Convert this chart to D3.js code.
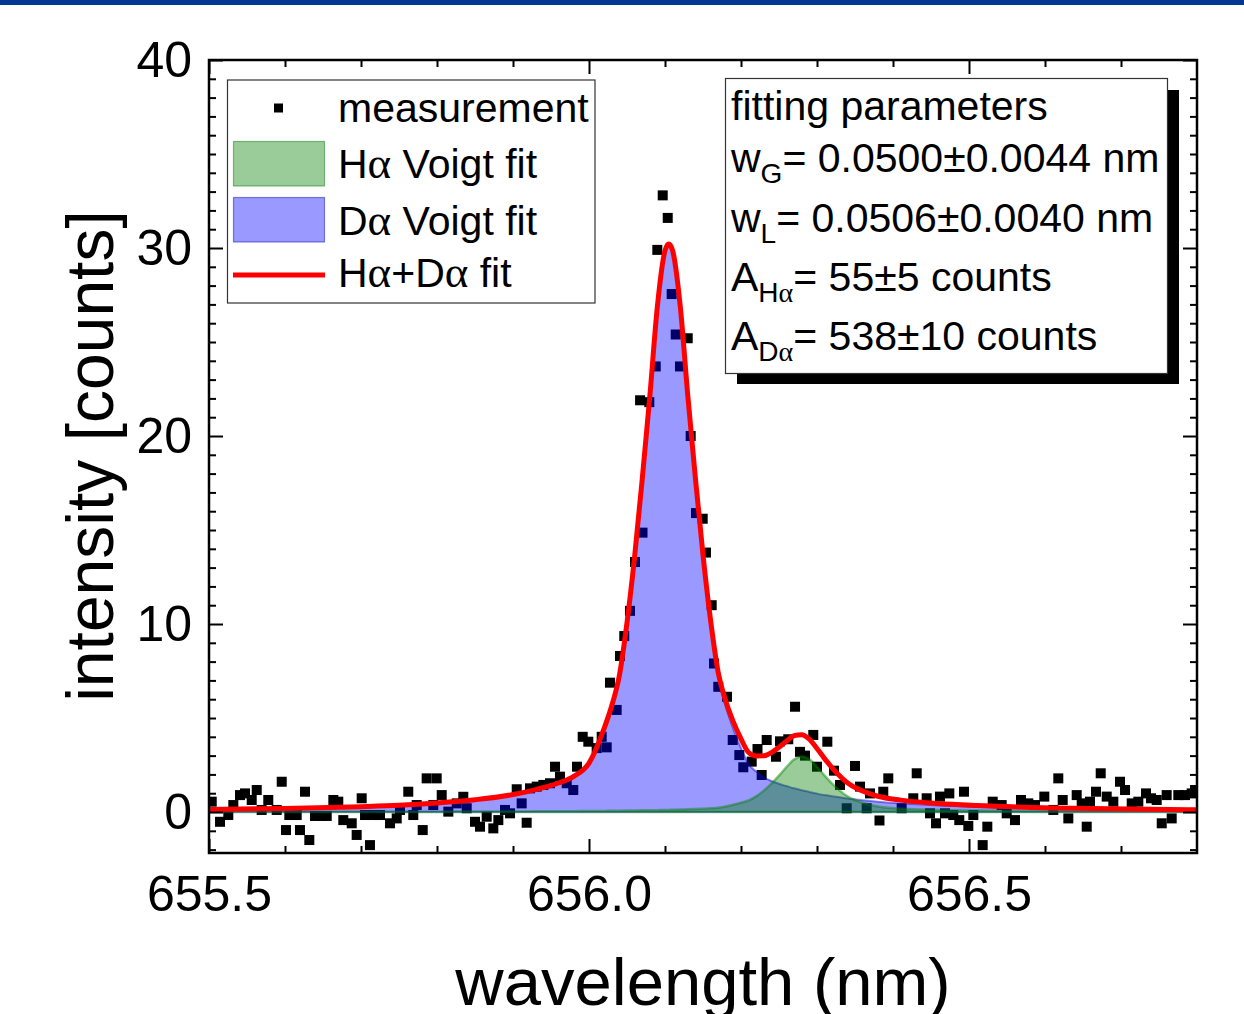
<!DOCTYPE html>
<html>
<head>
<meta charset="utf-8">
<script src="https://cdn.jsdelivr.net/npm/d3@7"></script>
<style>
  html, body { margin: 0; padding: 0; background: #ffffff; }
  svg { display: block; }
  text { font-family: "Liberation Sans", Arial, sans-serif; fill: #000; }
  .greek { font-family: "Liberation Serif", "Times New Roman", serif; }
</style>
</head>
<body>
<svg id="chart" width="1244" height="1014"></svg>
<script>
// ---- measured spectrum (wavelength in nm, intensity in counts) ----
const measWavelength = [
  655.5036, 655.5145, 655.5254, 655.5320, 655.5408, 655.5474, 655.5562, 655.5628, 655.5693, 655.5780,
  655.5891, 655.5957, 655.6013, 655.6057, 655.6154, 655.6197, 655.6263, 655.6320, 655.6395, 655.6461,
  655.6549, 655.6636, 655.6701, 655.6767, 655.6878, 655.6943, 655.7009, 655.7053, 655.7118, 655.7162,
  655.7250, 655.7382, 655.7470, 655.7513, 655.7622, 655.7688, 655.7733, 655.7812, 655.7864, 655.7951,
  655.7996, 655.8062, 655.8149, 655.8259, 655.8346, 655.8391, 655.8500, 655.8566, 655.8654, 655.8741,
  655.8807, 655.8895, 655.8961, 655.9049, 655.9114, 655.9180, 655.9224, 655.9312, 655.9399, 655.9487,
  655.9553, 655.9618, 655.9707, 655.9793, 655.9842, 655.9917, 655.9991, 656.0101, 656.0167, 656.0233,
  656.0276, 656.0364, 656.0408, 656.0464, 656.0539, 656.0605, 656.0672, 656.0704, 656.0793, 656.0878,
  656.0899, 656.0970, 656.1036, 656.1088, 656.1141, 656.1197, 656.1299, 656.1338, 656.1408, 656.1496,
  656.1539, 656.1614, 656.1645, 656.1701, 656.1816, 656.1891, 656.1978, 656.2030, 656.2141, 656.2217,
  656.2272, 656.2338, 656.2460, 656.2513, 656.2622, 656.2711, 656.2776, 656.2842, 656.2951, 656.3000,
  656.3136, 656.3224, 656.3303, 656.3391, 656.3500, 656.3566, 656.3654, 656.3697, 656.3822, 656.3872,
  656.3938, 656.4114, 656.4267, 656.4312, 656.4443, 656.4487, 656.4566, 656.4618, 656.4684, 656.4741,
  656.4793, 656.4872, 656.4934, 656.4991, 656.5057, 656.5180, 656.5241, 656.5312, 656.5430, 656.5496,
  656.5605, 656.5684, 656.5780, 656.5868, 656.5991, 656.6109, 656.6175, 656.6233, 656.6307, 656.6417,
  656.6483, 656.6549, 656.6592, 656.6671, 656.6733, 656.6812, 656.6899, 656.6987, 656.7053, 656.7141,
  656.7228, 656.7329, 656.7395, 656.7470, 656.7536, 656.7601, 656.7667, 656.7754, 656.7842, 656.7930,
  656.7974
];
const measCounts = [
  0.55, -0.52, -0.16, 0.37, 0.90, 0.99, 0.64, 1.17, 0.11, 0.64,
  0.11, 1.61, -0.96, -0.16, -0.16, -0.96, 1.08, -1.49, -0.21, -0.21,
  -0.21, 0.64, 0.55, -0.43, -0.60, -1.22, 0.73, -0.16, -1.76, -0.16,
  -0.16, -0.60, -0.34, 0.11, 1.08, -0.16, 0.37, -0.96, 1.79, 0.37,
  1.79, 0.90, 0.02, 0.46, 0.81, 0.20, -0.52, -0.78, -0.25, -0.87,
  -0.43, 0.11, -0.07, 1.21, 0.46, -0.57, 1.26, 1.35, 1.44, 1.53,
  2.41, 1.88, 1.53, 1.17, 2.41, 4.00, 3.74, 3.40, 4.00, 3.44,
  6.88, 5.43, 8.30, 9.36, 10.70, 13.30, 21.90, 14.86, 21.80, 23.70,
  29.90, 32.80, 31.60, 27.55, 25.40, 23.70, 25.20, 20.00, 15.90, 15.60,
  13.80, 11.00, 7.90, 6.66, 6.13, 3.83, 3.03, 2.38, 2.68, 3.35,
  1.97, 3.83, 2.94, 3.76, 3.87, 5.60, 3.20, 3.00, 4.10, 2.41,
  3.74, 2.20, 1.44, 0.20, 2.45, 1.35, 0.20, 0.99, -0.45, 1.08,
  1.79, 0.20, 0.73, 2.06, 0.73, -0.07, -0.60, 0.82, -0.07, 0.99,
  -0.16, -0.43, 1.08, -0.74, -0.16, -1.76, -0.78, 0.55, 0.37, -0.07,
  -0.43, 0.64, 0.46, 0.37, 0.82, 0.11, 1.79, 0.64, -0.34, 0.90,
  0.46, -0.78, 0.55, 1.08, 2.06, 0.82, 0.55, 1.61, 1.17, 0.46,
  0.55, 0.99, 0.73, 0.64, -0.60, 0.90, -0.34, 0.90, 0.90, 0.99,
  1.17
];

// ---- Voigt fit components on a common wavelength grid ----
const fitWavelength = [
  655.50, 655.60, 655.70, 655.75, 655.80, 655.85, 655.90, 655.93, 655.96, 655.98,
  656.00, 656.02, 656.03, 656.04, 656.05, 656.06, 656.07, 656.08, 656.09, 656.10,
  656.105, 656.11, 656.12, 656.13, 656.14, 656.15, 656.16, 656.17, 656.18, 656.19,
  656.20, 656.21, 656.22, 656.23, 656.24, 656.25, 656.26, 656.27, 656.28, 656.29,
  656.30, 656.31, 656.32, 656.33, 656.34, 656.36, 656.38, 656.41, 656.46, 656.51,
  656.61, 656.71, 656.80
];
const dAlphaFit = [
  0.13, 0.18, 0.27, 0.34, 0.46, 0.63, 0.90, 1.16, 1.50, 1.85,
  2.55, 4.40, 5.60, 7.20, 10.0, 13.5, 17.6, 22.0, 26.8, 29.75,
  30.1, 29.75, 26.8, 22.0, 17.6, 13.5, 10.0, 7.20, 5.60, 4.40,
  3.40, 2.55, 2.15, 1.85, 1.65, 1.50, 1.38, 1.26, 1.16, 1.07,
  0.98, 0.90, 0.84, 0.78, 0.72, 0.63, 0.55, 0.46, 0.34, 0.27,
  0.18, 0.13, 0.10
];
const hAlphaFit = [
  0.008, 0.010, 0.014, 0.016, 0.020, 0.024, 0.029, 0.035, 0.042, 0.046,
  0.053, 0.060, 0.064, 0.069, 0.075, 0.081, 0.088, 0.093, 0.100, 0.110,
  0.113, 0.119, 0.129, 0.141, 0.154, 0.172, 0.194, 0.225, 0.289, 0.382,
  0.490, 0.617, 0.833, 1.137, 1.509, 1.940, 2.400, 2.800, 2.950, 2.800,
  2.400, 1.940, 1.509, 1.137, 0.833, 0.490, 0.289, 0.172, 0.110, 0.075,
  0.040, 0.024, 0.017
];

// ---- axis ticks and labels ----
const xMajorTicks = [655.5, 656.0, 656.5];
const xMinorTicks = [655.6, 655.7, 655.8, 655.9, 656.1, 656.2, 656.3, 656.4, 656.6, 656.7];
const yMajorTicks = [0, 10, 20, 30, 40];
const yMinorTicks = [-2, -1, 1, 2, 3, 4, 5, 6, 7, 8, 9, 11, 12, 13, 14, 15, 16, 17, 18, 19,
                     21, 22, 23, 24, 25, 26, 27, 28, 29, 31, 32, 33, 34, 35, 36, 37, 38, 39];

// ---- legend and fit-parameter texts ----
const legendLabels = [
  [{t: "measurement"}],
  [{t: "H"}, {t: "α", g: true}, {t: " Voigt fit"}],
  [{t: "D"}, {t: "α", g: true}, {t: " Voigt fit"}],
  [{t: "H"}, {t: "α", g: true}, {t: "+D"}, {t: "α", g: true}, {t: " fit"}]
];
const paramLines = [
  {main: "fitting parameters"},
  {main: "w", sub: [{t: "G"}], rest: "= 0.0500±0.0044 nm"},
  {main: "w", sub: [{t: "L"}], rest: "= 0.0506±0.0040 nm"},
  {main: "A", sub: [{t: "H"}, {t: "α", g: true}], rest: "= 55±5 counts"},
  {main: "A", sub: [{t: "D"}, {t: "α", g: true}], rest: "= 538±10 counts"}
];

const svg = d3.select("#chart");

// header bar
svg.append("rect").attr("x", 0).attr("y", 0).attr("width", 1244).attr("height", 5).attr("fill", "#023892");

const x = d3.scaleLinear().domain([655.5, 656.8]).range([209, 1197]);
const y = d3.scaleLinear().domain([-2.18, 40]).range([853, 60]);

const plot = svg.append("g");
plot.append("clipPath").attr("id", "plotClip")
  .append("rect").attr("x", 209).attr("y", 60).attr("width", 988).attr("height", 793);

const inner = plot.append("g").attr("clip-path", "url(#plotClip)");

// measurement points
const mSize = 10;
inner.append("g").selectAll("rect")
  .data(measWavelength.map((w, i) => [w, measCounts[i]]))
  .join("rect")
  .attr("x", d => x(d[0]) - mSize / 2)
  .attr("y", d => y(d[1]) - mSize / 2)
  .attr("width", mSize).attr("height", mSize)
  .attr("fill", "#000");

const fitRows = fitWavelength.map((w, i) => ({w, d: dAlphaFit[i], h: hAlphaFit[i], s: dAlphaFit[i] + hAlphaFit[i]}));

// D-alpha Voigt component
inner.append("path")
  .datum(fitRows)
  .attr("d", d3.area().curve(d3.curveMonotoneX).x(r => x(r.w)).y0(y(0)).y1(r => y(r.d)))
  .attr("fill", "rgba(0,0,255,0.4)")
  .attr("stroke", "rgba(0,0,200,0.45)")
  .attr("stroke-width", 2);

// H-alpha Voigt component
inner.append("path")
  .datum(fitRows)
  .attr("d", d3.area().curve(d3.curveMonotoneX).x(r => x(r.w)).y0(y(0)).y1(r => y(r.h)))
  .attr("fill", "rgba(0,128,0,0.4)")
  .attr("stroke", "rgba(0,130,0,0.45)")
  .attr("stroke-width", 2.5);

// summed fit
inner.append("path")
  .datum(fitRows)
  .attr("d", d3.line().curve(d3.curveMonotoneX).x(r => x(r.w)).y(r => y(r.s)))
  .attr("fill", "none")
  .attr("stroke", "#ff0000")
  .attr("stroke-width", 5)
  .attr("stroke-linejoin", "round");

// axes with inward ticks on all four sides
function styleAxis(g) {
  g.select(".domain").remove();
  g.selectAll(".tick line").attr("stroke", "#000").attr("stroke-width", 2);
  g.selectAll("text").attr("font-family", "Liberation Sans, Arial, sans-serif").attr("font-size", 50).attr("fill", "#000");
}
const fmtX = d3.format(".1f");

plot.append("g").attr("transform", "translate(0,853)")
  .call(d3.axisBottom(x).tickValues(xMajorTicks).tickSize(-14).tickPadding(22).tickFormat(fmtX))
  .call(styleAxis);
plot.append("g").attr("transform", "translate(0,853)")
  .call(d3.axisBottom(x).tickValues(xMinorTicks).tickSize(-7).tickFormat(""))
  .call(styleAxis);
plot.append("g").attr("transform", "translate(0,60)")
  .call(d3.axisTop(x).tickValues(xMajorTicks).tickSize(-14).tickFormat(""))
  .call(styleAxis);
plot.append("g").attr("transform", "translate(0,60)")
  .call(d3.axisTop(x).tickValues(xMinorTicks).tickSize(-7).tickFormat(""))
  .call(styleAxis);

plot.append("g").attr("transform", "translate(209,0)")
  .call(d3.axisLeft(y).tickValues(yMajorTicks).tickSize(-14).tickPadding(17).tickFormat(d3.format("d")))
  .call(styleAxis);
plot.append("g").attr("transform", "translate(209,0)")
  .call(d3.axisLeft(y).tickValues(yMinorTicks).tickSize(-7).tickFormat(""))
  .call(styleAxis);
plot.append("g").attr("transform", "translate(1197,0)")
  .call(d3.axisRight(y).tickValues(yMajorTicks).tickSize(-14).tickFormat(""))
  .call(styleAxis);
plot.append("g").attr("transform", "translate(1197,0)")
  .call(d3.axisRight(y).tickValues(yMinorTicks).tickSize(-7).tickFormat(""))
  .call(styleAxis);

// frame
plot.append("rect").attr("x", 209).attr("y", 60).attr("width", 988).attr("height", 793)
  .attr("fill", "none").attr("stroke", "#000").attr("stroke-width", 2.5);

// axis titles
svg.append("text").attr("transform", "translate(113,456) rotate(-90)")
  .attr("text-anchor", "middle").attr("font-size", 66).text("intensity [counts]");
svg.append("text").attr("x", 703).attr("y", 1005)
  .attr("text-anchor", "middle").attr("font-size", 67).text("wavelength (nm)");

// legend
const legend = svg.append("g");
legend.append("rect").attr("x", 227.5).attr("y", 80).attr("width", 367.5).attr("height", 223)
  .attr("fill", "#fff").attr("stroke", "#333").attr("stroke-width", 1.2);
legend.append("rect").attr("x", 274).attr("y", 103.5).attr("width", 9).attr("height", 9).attr("fill", "#000");
legend.append("rect").attr("x", 233.5).attr("y", 141.5).attr("width", 91).attr("height", 44.5)
  .attr("fill", "rgba(0,128,0,0.4)").attr("stroke", "rgba(0,110,0,0.45)").attr("stroke-width", 1.2);
legend.append("rect").attr("x", 233.5).attr("y", 197.5).attr("width", 91).attr("height", 44.5)
  .attr("fill", "rgba(0,0,255,0.4)").attr("stroke", "rgba(0,0,180,0.45)").attr("stroke-width", 1.2);
legend.append("line").attr("x1", 233).attr("x2", 325).attr("y1", 275).attr("y2", 275)
  .attr("stroke", "#ff0000").attr("stroke-width", 5);
const legendBaselines = [122, 178, 235, 287];
legendLabels.forEach((parts, i) => {
  const t = legend.append("text").attr("x", 338).attr("y", legendBaselines[i]).attr("font-size", 41);
  parts.forEach(p => t.append("tspan").attr("class", p.g ? "greek" : null)
    .attr("font-size", p.g ? 45 : null).text(p.t));
});

// fit-parameter box with drop shadow
const box = svg.append("g");
box.append("rect").attr("x", 737).attr("y", 90).attr("width", 442).attr("height", 294).attr("fill", "#000");
box.append("rect").attr("x", 725.5).attr("y", 78.5).attr("width", 442).attr("height", 295)
  .attr("fill", "#fff").attr("stroke", "#333").attr("stroke-width", 1.2);
const paramBaselines = [120, 172, 232, 291, 350];
paramLines.forEach((ln, i) => {
  const t = box.append("text").attr("x", 731).attr("y", paramBaselines[i]).attr("font-size", 41);
  t.append("tspan").text(ln.main);
  if (ln.sub) {
    ln.sub.forEach((p, j) => {
      t.append("tspan").attr("class", p.g ? "greek" : null)
        .attr("font-size", 28).attr("dy", j === 0 ? 11 : 0).text(p.t);
    });
    t.append("tspan").attr("dy", -11).text(ln.rest);
  }
});
</script>
</body>
</html>
